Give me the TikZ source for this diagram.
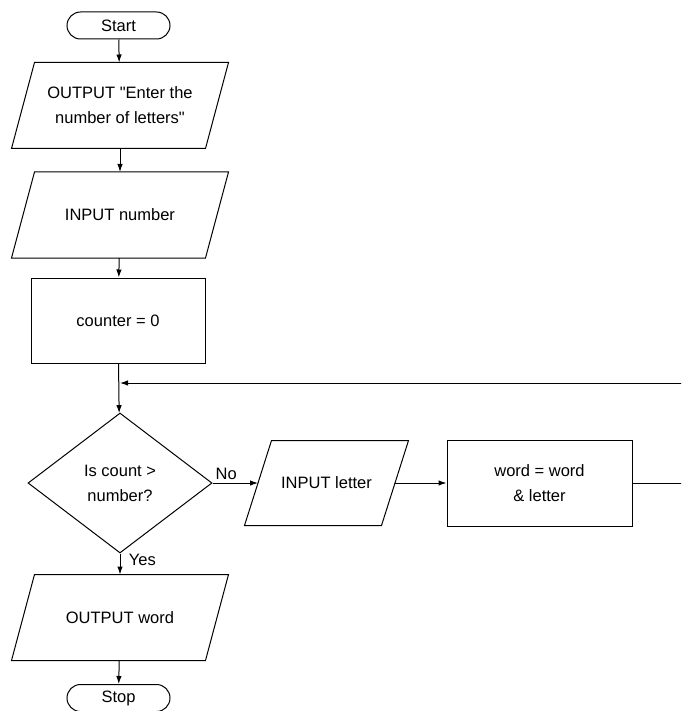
\documentclass[tikz,border=0pt]{standalone}
\usepackage{fontspec}
\setmainfont{Liberation Sans}
\usetikzlibrary{shapes.geometric,shapes.misc,arrows.meta,positioning}

\tikzset{
  term/.style={draw,rounded rectangle,minimum width=103pt,minimum height=27pt,inner sep=0pt},
  io/.style={rectangle,minimum width=193pt,minimum height=85pt,inner sep=0pt,align=center},
  proc/.style={draw,rectangle,minimum width=174pt,minimum height=85pt,inner sep=0pt,align=center},
  decide/.style={draw,diamond,minimum width=184pt,minimum height=140pt,inner sep=0pt,align=center},
}

\begin{document}
\begin{tikzpicture}[x=1pt,y=-1pt,line width=1pt,>={Latex[length=8pt,width=5.5pt]},
    font=\fontsize{16.5}{25}\selectfont]
        \clip (0,0) rectangle (681,711);
        % main column
        \node[term] (start) at (118.5,25.5) {Start};
        \node[io] (prompt) at (120,105.5) {OUTPUT \textquotedbl Enter the\\number of letters\textquotedbl};
        \node[io] (innum) at (120,215) {INPUT number};
        \node[proc] (count) at (118,320.5) {counter = 0};
        \coordinate (join) at (120,383);
        \node[decide] (test) at (120,483) {Is count >\\number?};
        \node[io] (outword) at (120,617.5) {OUTPUT word};
        \node[term] (stop) at (118.5,698) {Stop};
        % loop body
        \node[io,minimum width=136pt,minimum height=84pt] (inlet) at (326.5,483) {INPUT letter};
        \node[proc,minimum width=185pt,minimum height=86pt] (build) at (539.5,483) {word = word\\\& letter};
        % parallelogram outlines
        \foreach \n/\s in {prompt/11.5,innum/11.5,outword/11.5,inlet/13.5}
          \draw ([xshift=\s pt]\n.north west)--([xshift=\s pt]\n.north east)
            --([xshift=-\s pt]\n.south east)--([xshift=-\s pt]\n.south west)--cycle;
        \draw[->] (start)--(prompt);
        \draw[->] (prompt)--(innum);
        \draw[->] (innum)--(count);
        \draw[->] (count)--(test);
        \draw[->] (test)--node[right=5pt,pos=.3]{Yes}(outword);
        \draw[->] (outword)--(stop);
        \draw[->] (test)--node[above,pos=.3]{No}(inlet);
        \draw[->] (inlet)--(build);
        \draw[->] (build.east)--++(60,0)|-(join);
        \end{tikzpicture}
\end{document}
